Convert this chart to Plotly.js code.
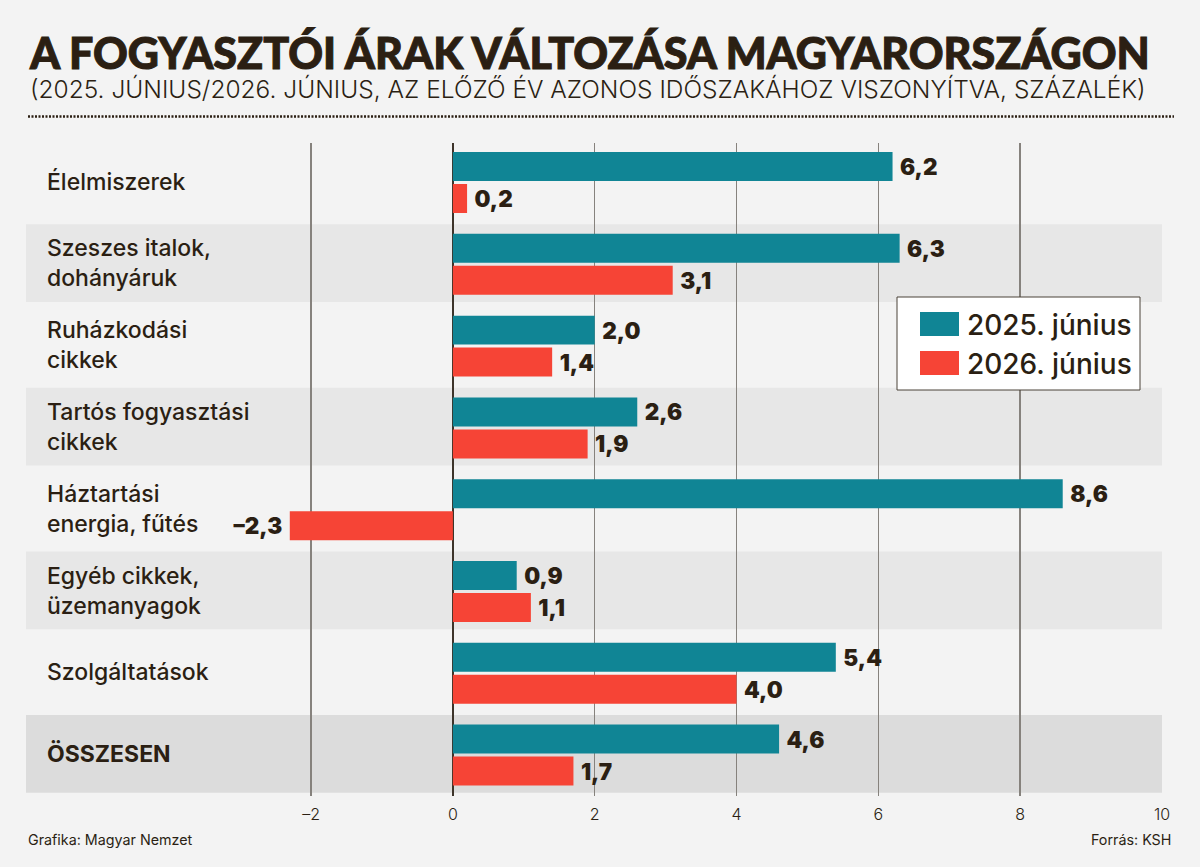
<!DOCTYPE html>
<html>
<head>
<meta charset="utf-8">
<script src="https://cdn.plot.ly/plotly-3.0.1.min.js"></script>
<style>html,body{margin:0;padding:0;background:#f3f3f3}#c{width:1200px;height:867px}
.gtitle{stroke:#2b1f13;stroke-width:1px}</style>
</head>
<body>
<div id="c"></div>
<script>
const categories = ['Élelmiszerek','Szeszes italok,<br>dohányáruk','Ruházkodási<br>cikkek','Tartós fogyasztási<br>cikkek','Háztartási<br>energia, fűtés','Egyéb cikkek,<br>üzemanyagok','Szolgáltatások','<b>ÖSSZESEN</b>'];
const values2025 = [6.2,6.3,2.0,2.6,8.6,0.9,5.4,4.6];
const values2026 = [0.2,3.1,1.4,1.9,-2.3,1.1,4.0,1.7];
const seriesNames = ['2025. június','2026. június'];
const tickValues = [-2,0,2,4,6,8,10];
const tickLabels = ['–2','0','2','4','6','8','10'];
const titleText = 'A FOGYASZTÓI ÁRAK VÁLTOZÁSA MAGYARORSZÁGON';
const subtitleText = '(2025. JÚNIUS/2026. JÚNIUS, AZ ELŐZŐ ÉV AZONOS IDŐSZAKÁHOZ VISZONYÍTVA, SZÁZALÉK)';

const INK = '#2b1f13', TEAL = '#108595', RED = '#f64436', FONT = 'Inter';
const L = 26, R = 1162, T = 143, B = 796;
const px = x => (x - L) / (R - L);
const py = y => (B - y) / (B - T);
const fmt = v => v.toFixed(1).replace('.', ',').replace('-', '–');
const label = v => v < 0 ? fmt(v) + '\u00a0' : '\u00a0' + fmt(v);

const bar = (name, vals, color) => ({
  type: 'bar', orientation: 'h', name, y: categories, x: vals,
  marker: {color, line: {width: 0}},
  text: vals.map(label), textposition: 'outside', constraintext: 'none', cliponaxis: false,
  textfont: {family: FONT, size: 22.5, weight: 900, color: INK},
  hoverinfo: 'skip'
});
const data = [bar(seriesNames[0], values2025, TEAL), bar(seriesNames[1], values2026, RED)];

const shapes = [];
categories.forEach((c, i) => {
  if (i % 2 === 1) shapes.push({type: 'rect', layer: 'below', xref: 'paper', yref: 'y', x0: 0, x1: 1, y0: i - 0.49, y1: i + 0.46,
    line: {width: 0}, fillcolor: i === categories.length - 1 ? '#dcdcdc' : '#e7e7e7'});
});
shapes.push({type: 'line', layer: 'between', xref: 'x', yref: 'paper', x0: tickValues[0], x1: tickValues[0], y0: 0, y1: 1,
  line: {color: '#3d342a', width: 1}});
shapes.push({type: 'line', xref: 'paper', yref: 'paper', x0: px(28), x1: px(1174), y0: py(116.5), y1: py(116.5),
  line: {color: INK, width: 2.5, dash: '2px,1.5px'}});
// legend box
shapes.push({type: 'rect', xref: 'paper', yref: 'paper', x0: px(897), x1: px(1140), y0: py(390), y1: py(297),
  line: {color: '#4a4238', width: 1}, fillcolor: '#ffffff'});
shapes.push({type: 'rect', xref: 'paper', yref: 'paper', x0: px(920), x1: px(959), y0: py(336), y1: py(312), line: {width: 0}, fillcolor: TEAL});
shapes.push({type: 'rect', xref: 'paper', yref: 'paper', x0: px(920), x1: px(959), y0: py(375), y1: py(351), line: {width: 0}, fillcolor: RED});

const note = (text, x, y, size, opts) => Object.assign({text, xref: 'paper', yref: 'paper', x: px(x), y: py(y), xanchor: 'left', yanchor: 'middle',
  showarrow: false, align: 'left', font: {family: FONT, size, color: INK}}, opts || {});
const annotations = categories.map((c, i) => ({
  text: c, xref: 'paper', yref: 'y', x: px(45), y: i - 0.01, xanchor: 'left', yanchor: 'middle', showarrow: false, align: 'left',
  font: {family: FONT, size: 23, weight: 500, color: INK}
}));
annotations.push(
  note(subtitleText, 28, 89, 24.5, {font: {family: FONT, size: 24.5, weight: 300, color: INK}}),
  note(seriesNames[0], 965, 325, 28, {font: {family: FONT, size: 28, weight: 500, color: INK}}),
  note(seriesNames[1], 965, 364, 28, {font: {family: FONT, size: 28, weight: 500, color: INK}}),
  note('Grafika: Magyar Nemzet', 26, 840, 14.3),
  note('Forrás: KSH', 1173, 840, 14.3, {xanchor: 'right', align: 'right'})
);

const layout = {
  width: 1200, height: 867, autosize: false,
  paper_bgcolor: '#f3f3f3', plot_bgcolor: 'rgba(0,0,0,0)',
  margin: {l: L, r: 1200 - R, t: T, b: 867 - B, pad: 0},
  showlegend: false, barmode: 'group', bargap: 0.218, bargroupgap: 0.094,
  title: {text: titleText, xref: 'container', yref: 'container', x: 30 / 1200, xanchor: 'left', y: 1 - 54 / 867, yanchor: 'middle',
    font: {family: 'Lato', size: 43, weight: 900, color: INK}},
  xaxis: {range: [-6.02, 10], tickmode: 'array', tickvals: tickValues, ticktext: tickLabels, showgrid: true, gridcolor: '#86827d', gridwidth: 1.5,
    zeroline: true, zerolinecolor: '#3d342a', zerolinewidth: 2, showline: false, ticks: '', ticklabelstandoff: 7,
    tickfont: {family: FONT, size: 16, color: INK, weight: 300}, automargin: false},
  yaxis: {type: 'category', categoryorder: 'array', categoryarray: categories, range: [7.5, -0.483], showticklabels: false, showgrid: false, zeroline: false, ticks: '', automargin: false},
  shapes, annotations
};
Plotly.newPlot('c', data, layout, {displayModeBar: false, staticPlot: true});
</script>
</body>
</html>
